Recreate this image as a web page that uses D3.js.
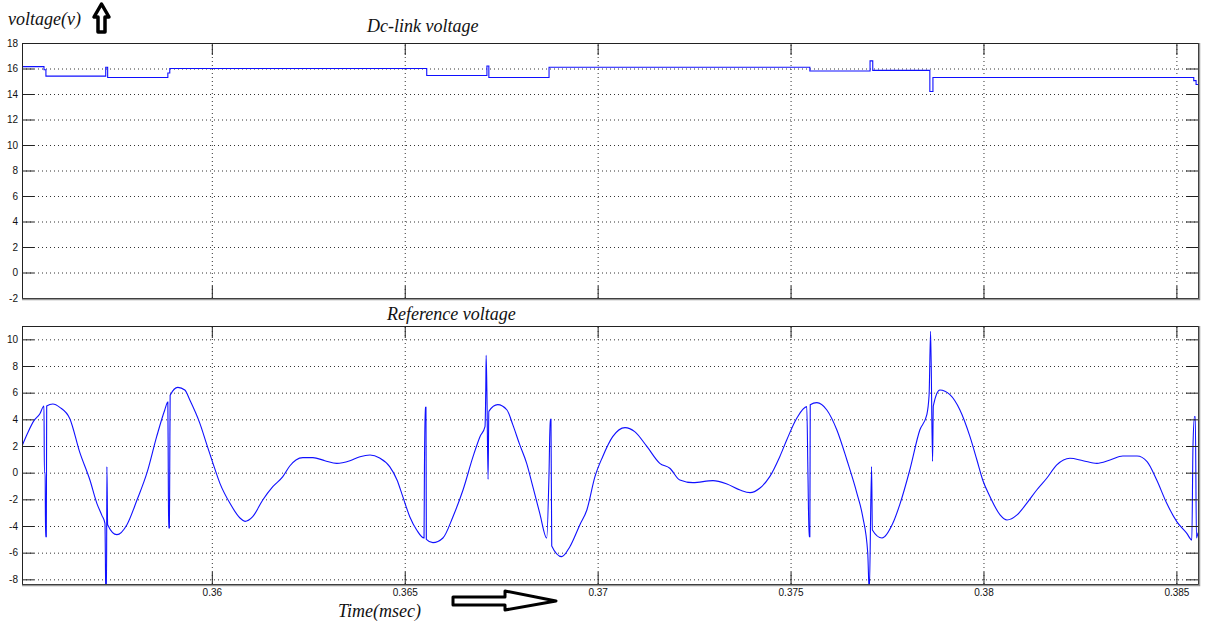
<!DOCTYPE html>
<html>
<head>
<meta charset="utf-8">
<script src="https://cdn.jsdelivr.net/npm/d3@7"></script>
<style>
  body { margin: 0; background: #fff; }
  svg { display: block; }
  .tick text { font-family: "Liberation Sans", Arial, sans-serif; font-size: 10px; fill: #111; }
  .ttl { font-family: "Liberation Serif", "Times New Roman", serif; font-style: italic; font-size: 18px; fill: #111; }
</style>
</head>
<body>
<svg id="chart"></svg>
<script>
const W = 1209, H = 628

// Dc-link voltage, held until the next time (step after)
const dcTime = [0.35508, 0.35565, 0.35570, 0.35725, 0.35730, 0.35886, 0.35891, 0.36557, 0.36713, 0.36718,
  0.36874, 0.37550, 0.37706, 0.37713, 0.37861, 0.37869, 0.38545, 0.38551, 0.38556]
const dcVolt = [16.15, 15.9, 15.4, 16.1, 15.3, 15.65, 16.0, 15.45, 16.2, 15.3,
  16.1, 15.8, 16.6, 15.85, 14.2, 15.3, 15.05, 14.75, 14.75]

// Reference voltage
const refTime = [
  0.35508, 0.35523, 0.35539, 0.35554, 0.35565, 0.35566, 0.35568, 0.35569, 0.35571, 0.35572,
  0.35588, 0.35606, 0.35632, 0.35658, 0.35684, 0.35702, 0.35715, 0.35723, 0.35724, 0.35725,
  0.35727, 0.35728, 0.35730, 0.35754, 0.35780, 0.35806, 0.35832, 0.35857, 0.35878, 0.35886,
  0.35887, 0.35888, 0.35890, 0.35891, 0.35892, 0.35912, 0.35930, 0.35943, 0.35969, 0.35987,
  0.36003, 0.36021, 0.36047, 0.36073, 0.36086, 0.36106, 0.36132, 0.36158, 0.36184, 0.36202,
  0.36218, 0.36236, 0.36262, 0.36293, 0.36324, 0.36358, 0.36384, 0.36410, 0.36435, 0.36461,
  0.36480, 0.36495, 0.36513, 0.36531, 0.36550, 0.36551, 0.36553, 0.36555, 0.36556, 0.36573,
  0.36599, 0.36625, 0.36651, 0.36677, 0.36695, 0.36708, 0.36710, 0.36711, 0.36713, 0.36716,
  0.36718, 0.36741, 0.36765, 0.36780, 0.36798, 0.36816, 0.36832, 0.36850, 0.36868, 0.36874,
  0.36877, 0.36879, 0.36881, 0.36907, 0.36928, 0.36954, 0.36972, 0.36993, 0.37013, 0.37039,
  0.37071, 0.37096, 0.37128, 0.37161, 0.37187, 0.37213, 0.37247, 0.37299, 0.37335, 0.37369,
  0.37395, 0.37420, 0.37446, 0.37472, 0.37490, 0.37516, 0.37542, 0.37545, 0.37548, 0.37550,
  0.37551, 0.37568, 0.37594, 0.37620, 0.37646, 0.37672, 0.37687, 0.37700, 0.37704, 0.37710,
  0.37712, 0.37737, 0.37765, 0.37783, 0.37809, 0.37835, 0.37853, 0.37859, 0.37863, 0.37868,
  0.37870, 0.37887, 0.37913, 0.37939, 0.37965, 0.37983, 0.37998, 0.38017, 0.38043, 0.38061,
  0.38087, 0.38112, 0.38138, 0.38164, 0.38190, 0.38224, 0.38258, 0.38294, 0.38328, 0.38361,
  0.38398, 0.38424, 0.38449, 0.38475, 0.38501, 0.38527, 0.38540, 0.38543, 0.38547, 0.38549,
  0.38552, 0.38556]
const refVolt = [
  2.0, 3.0, 3.9, 4.4, 5.0, 0.0, 0.0, -4.8, -4.8, 5.0,
  5.15, 4.9, 4.05, 1.5, -0.55, -2.3, -3.2, -3.8, -6.0, -9.0,
  -9.0, 0.45, -3.9, -4.65, -3.9, -2.05, 0.0, 2.7, 4.7, 5.3,
  0.7, -4.15, -4.15, 0.7, 5.8, 6.4, 6.2, 5.45, 3.7, 2.1,
  0.7, -0.8, -2.3, -3.4, -3.65, -3.3, -2.05, -1.05, -0.3, 0.5,
  0.95, 1.13, 1.13, 0.9, 0.7, 0.9, 1.2, 1.33, 1.1, 0.45,
  -0.55, -1.8, -3.3, -4.3, -4.9, 0.0, 4.9, 4.9, -5.0, -5.25,
  -4.9, -3.3, -1.3, 1.2, 2.7, 3.45, 6.2, 8.8, 6.0, -0.5,
  4.6, 5.1, 4.7, 3.6, 2.1, 0.7, -1.05, -3.05, -4.9, 0.0,
  4.0, 4.0, -5.5, -6.3, -5.55, -3.9, -2.8, -0.3, 1.2, 2.7,
  3.38, 3.08, 1.95, 0.7, 0.33, -0.55, -0.75, -0.6, -0.85, -1.3,
  -1.5, -1.17, -0.3, 1.2, 2.45, 4.08, 4.95, 0.0, -4.8, -4.8,
  5.1, 5.25, 4.7, 3.2, 0.95, -1.55, -3.3, -6.0, -9.0, 0.45,
  -4.3, -4.9, -3.8, -2.4, 0.2, 3.2, 4.33, 5.8, 10.6, 0.85,
  5.0, 6.2, 5.85, 4.7, 2.7, 0.95, -0.55, -1.8, -3.17, -3.55,
  -3.17, -2.3, -1.3, -0.42, 0.58, 1.08, 0.9, 0.7, 0.95, 1.25,
  1.25, 0.83, -0.55, -2.3, -3.67, -4.55, -5.05, 2.0, 4.2, 4.2,
  -4.9, -4.5]

const xTicks = [0.36, 0.365, 0.37, 0.375, 0.38, 0.385]
const xTickLabels = ["0.36", "0.365", "0.37", "0.375", "0.38", "0.385"]
const dcTicks = [-2, 0, 2, 4, 6, 8, 10, 12, 14, 16, 18]
const refTicks = [-8, -6, -4, -2, 0, 2, 4, 6, 8, 10]

const svg = d3.select("#chart").attr("width", W).attr("height", H)

const left = 22, right = 1198
const x = d3.scaleLinear().domain([0.35508, 0.38556]).range([left, right])
const yTop = d3.scaleLinear().domain([-2, 18]).range([298, 43])
const yBot = d3.scaleLinear().domain([-8.35, 11]).range([584, 326])

const drawPanel = (id, y, yTicks, times, volts, curve, showX) => {
  const [bottom, top] = y.range()
  const g = svg.append("g").attr("class", id)

  g.append("clipPath").attr("id", "clip-" + id)
    .append("rect").attr("x", left).attr("y", top).attr("width", right - left).attr("height", bottom - top)

  // dotted grid
  g.append("g")
    .attr("transform", `translate(0,${bottom})`)
    .call(d3.axisBottom(x).tickValues(xTicks).tickSize(-(bottom - top)).tickFormat(""))
    .call(s => s.select(".domain").remove())
  g.append("g")
    .attr("transform", `translate(${left},0)`)
    .call(d3.axisLeft(y).tickValues(yTicks).tickSize(-(right - left)).tickFormat(""))
    .call(s => s.select(".domain").remove())
  g.selectAll(".tick line").attr("stroke", "#333").attr("stroke-dasharray", "1,3")

  // signal
  const pts = times.map((t, i) => [t, volts[i]])
  g.append("path")
    .datum(pts)
    .attr("clip-path", `url(#clip-${id})`)
    .attr("fill", "none")
    .attr("stroke", "#1010ff")
    .attr("stroke-width", 1.1)
    .attr("d", d3.line().x(d => x(d[0])).y(d => y(d[1])).curve(curve))

  // inward ticks on all four sides
  const tk = s => { s.select(".domain").remove(); s.selectAll(".tick line").attr("stroke", "#222") }
  g.append("g").attr("transform", `translate(${left},0)`)
    .call(d3.axisLeft(y).tickValues(yTicks).tickSize(-12).tickPadding(4).tickFormat(d => String(d))).call(tk)
  g.append("g").attr("transform", `translate(${right},0)`)
    .call(d3.axisRight(y).tickValues(yTicks).tickSize(-12).tickFormat("")).call(tk)
  g.append("g").attr("transform", `translate(0,${top})`)
    .call(d3.axisTop(x).tickValues(xTicks).tickSize(-12).tickFormat("")).call(tk)
  g.append("g").attr("transform", `translate(0,${bottom})`)
    .call(d3.axisBottom(x).tickValues(xTicks).tickSize(-12).tickPadding(5)
      .tickFormat((d, i) => showX ? xTickLabels[i] : "")).call(tk)

  // frame
  g.append("rect")
    .attr("x", left + 0.5).attr("y", top + 0.5)
    .attr("width", right - left).attr("height", bottom - top)
    .attr("fill", "none").attr("stroke", "#222")
  g.append("path")
    .attr("d", `M${right + 1.5},${top}V${bottom + 1.5}H${left}`)
    .attr("fill", "none").attr("stroke", "#999").attr("stroke-width", 1.5)
}

drawPanel("dc", yTop, dcTicks, dcTime, dcVolt, d3.curveStepAfter, false)
drawPanel("ref", yBot, refTicks, refTime, refVolt, d3.curveMonotoneX, true)

// titles and axis names
svg.append("text").attr("class", "ttl").attr("x", 367).attr("y", 32).text("Dc-link voltage")
svg.append("text").attr("class", "ttl").attr("x", 387).attr("y", 320).text("Reference voltage")
svg.append("text").attr("class", "ttl").attr("x", 8).attr("y", 25).text("voltage(v)")
svg.append("text").attr("class", "ttl").attr("x", 338).attr("y", 617).text("Time(msec)")

// hollow arrows
svg.append("path")
  .attr("d", "M101.5,4 L94,17 L98,17 L98,32 L105,32 L105,17 L109,17 Z")
  .attr("fill", "#fff").attr("stroke", "#000").attr("stroke-width", 3.5).attr("stroke-linejoin", "round")
svg.append("path")
  .attr("d", "M453,597 L505,597 L505,591 L556,601 L505,610 L505,605 L453,605 Z")
  .attr("fill", "#fff").attr("stroke", "#000").attr("stroke-width", 3).attr("stroke-linejoin", "round")
</script>
</body>
</html>
